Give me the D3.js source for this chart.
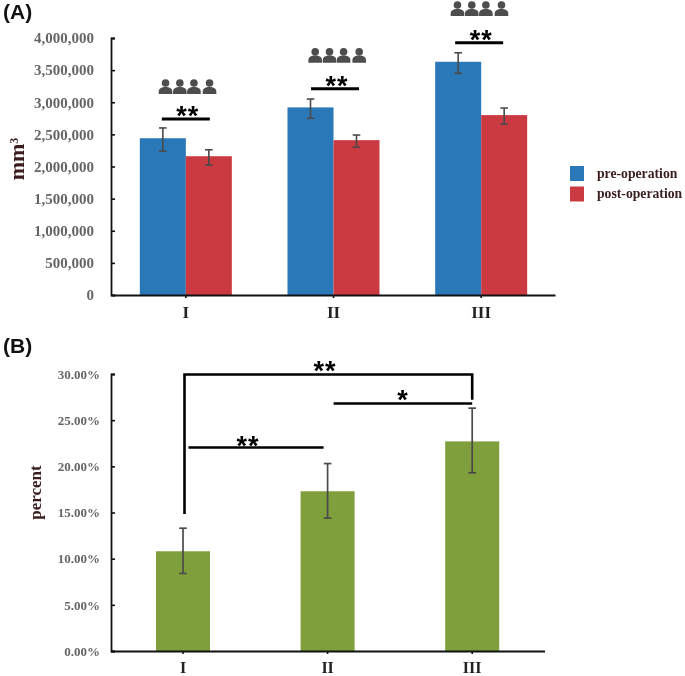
<!DOCTYPE html>
<html><head><meta charset="utf-8">
<script src="https://cdn.jsdelivr.net/npm/d3@7/dist/d3.min.js"></script>
<style>
html,body{margin:0;padding:0;background:#fff}
svg{display:block;filter:blur(0.35px)}
.tick text{font-family:"Liberation Serif",serif;font-weight:bold}
</style></head><body>
<svg id="c" width="685" height="676"></svg>
<script>
const groups = ["I","II","III"];
const seriesNames = ["pre-operation","post-operation"];
const preValues = [2440000,2920000,3630000];
const preLow = [2240000,2750000,3450000];
const preHigh = [2600000,3050000,3770000];
const postValues = [2160000,2410000,2800000];
const postLow = [2020000,2300000,2660000];
const postHigh = [2260000,2490000,2910000];
const volumeTicks = [0,500000,1000000,1500000,2000000,2500000,3000000,3500000,4000000];
const sigLineA = [2740000,3210000,3927000];
const iconLevelA = [3128000,3615000,4342000];
const percentValues = [10.8,17.3,22.7];
const percentLow = [8.4,14.4,19.3];
const percentHigh = [13.3,20.3,26.3];
const percentTicks = [0,5,10,15,20,25,30];
const colors = {pre:"#2b78b9",post:"#cb3a40",green:"#7f9f3c",err:"#4a4a4a",tick:"#666666",title:"#3a1e1e"};

const svg = d3.select("#c");
const serif = '"Liberation Serif",serif', sans = '"Liberation Sans",sans-serif';

function styleAxis(g,fs,col){
  g.selectAll("path.domain").attr("stroke","#111").attr("stroke-width",1.8);
  g.selectAll(".tick line").attr("stroke","#111").attr("stroke-width",1.6);
  g.selectAll(".tick text").attr("fill",col).style("font-size",fs+"px");
}
function errBar(g,x,lo,hi,cap,sw){
  g.append("line").attr("x1",x).attr("x2",x).attr("y1",lo).attr("y2",hi).attr("stroke",colors.err).attr("stroke-width",sw);
  [lo,hi].forEach(y=>g.append("line").attr("x1",x-cap).attr("x2",x+cap).attr("y1",y).attr("y2",y).attr("stroke",colors.err).attr("stroke-width",sw));
}
function stars(x,cy,s){
  svg.append("text").attr("x",x).attr("y",cy+12).attr("text-anchor","middle").attr("letter-spacing",1)
    .attr("font-family",sans).attr("font-weight","bold").attr("font-size",27).attr("fill","#000").text(s);
}
function person(g,cx,base){
  g.append("circle").attr("cx",cx).attr("cy",base-11).attr("r",3.8).attr("fill","#4d4d4d");
  g.append("path").attr("fill","#4d4d4d")
    .attr("d",`M${cx-6.8},${base} v-2.6 q0,-4.4 6.8,-4.8 q6.8,0.4 6.8,4.8 v2.6 z`);
}

/* Panel A */
const xA = d3.scaleBand().domain(groups).range([112,555]);
const yA = d3.scaleLinear().domain([0,4000000]).range([295,38]);
const bw = 46;
const cA = g => xA(g)+xA.bandwidth()/2;
const gA = svg.append("g");
const sigShift = [0,1.5,-2], iconShift = [-20.3,-18.3,-23.7], iconStep = [0,14.3,28.4,44];
groups.forEach((g,i)=>{
  const c = cA(g);
  gA.append("rect").attr("x",c-bw).attr("width",bw).attr("y",yA(preValues[i])).attr("height",yA(0)-yA(preValues[i])).attr("fill",colors.pre);
  gA.append("rect").attr("x",c).attr("width",bw).attr("y",yA(postValues[i])).attr("height",yA(0)-yA(postValues[i])).attr("fill",colors.post);
  errBar(gA,c-bw/2,yA(preLow[i]),yA(preHigh[i]),3.8,1.6);
  errBar(gA,c+bw/2,yA(postLow[i]),yA(postHigh[i]),3.8,1.6);
  const ly = yA(sigLineA[i]), mid = c+sigShift[i];
  gA.append("line").attr("x1",mid-24).attr("x2",mid+24).attr("y1",ly).attr("y2",ly).attr("stroke","#000").attr("stroke-width",3);
  stars(mid+2,ly-6,"**");
  const ib = yA(iconLevelA[i]);
  iconStep.forEach(d=>person(gA,c+iconShift[i]+d,ib));
});
const axAy = svg.append("g").attr("transform","translate(111,0)")
  .call(d3.axisLeft(yA).tickValues(volumeTicks).tickFormat(d3.format(",")).tickSize(-4).tickPadding(17));
styleAxis(axAy,15,colors.tick);
const axAx = svg.append("g").attr("transform","translate(0,295)")
  .call(d3.axisBottom(xA).tickSizeInner(3).tickSizeOuter(0).tickPadding(8));
styleAxis(axAx,17,"#222");
svg.append("text").attr("transform","translate(24,159) rotate(-90)").attr("text-anchor","middle")
  .attr("font-family",serif).attr("font-weight","bold").attr("font-size",22).attr("fill",colors.title)
  .html('mm<tspan dy="-6" font-size="12">3</tspan>');
svg.append("text").attr("x",3).attr("y",19).attr("font-family",sans).attr("font-weight","bold").attr("font-size",21).attr("fill","#111").text("(A)");

/* Legend */
seriesNames.forEach((n,i)=>{
  const y = 166+i*20.5;
  svg.append("rect").attr("x",570).attr("y",y).attr("width",14).attr("height",15).attr("fill",i?colors.post:colors.pre);
  svg.append("text").attr("x",597).attr("y",y+11.5).attr("font-family",serif).attr("font-weight","bold").attr("font-size",13.7).attr("fill",colors.title).text(n);
});

/* Panel B */
const xB = d3.scaleBand().domain(groups).range([110.7,544.5]);
const yB = d3.scaleLinear().domain([0,30]).range([651,374]);
const bwB = 54;
const cB = g => xB(g)+xB.bandwidth()/2;
const gB = svg.append("g");
groups.forEach((g,i)=>{
  const c = cB(g);
  gB.append("rect").attr("x",c-bwB/2).attr("width",bwB).attr("y",yB(percentValues[i])).attr("height",yB(0)-yB(percentValues[i])).attr("fill",colors.green);
  errBar(gB,c,yB(percentLow[i]),yB(percentHigh[i]),3.8,1.7);
});
const axBy = svg.append("g").attr("transform","translate(111,0)")
  .call(d3.axisLeft(yB).tickValues(percentTicks).tickFormat(d=>d.toFixed(2)+"%").tickSize(-4).tickPadding(11));
styleAxis(axBy,13,colors.tick);
const axBx = svg.append("g").attr("transform","translate(0,651)")
  .call(d3.axisBottom(xB).tickSizeInner(3).tickSizeOuter(0).tickPadding(8));
styleAxis(axBx,16,"#222");
svg.append("text").attr("transform","translate(41,492.5) rotate(-90)").attr("text-anchor","middle")
  .attr("font-family",serif).attr("font-weight","bold").attr("font-size",17).attr("fill",colors.title).text("percent");
svg.append("text").attr("x",3).attr("y",353).attr("font-family",sans).attr("font-weight","bold").attr("font-size",21).attr("fill","#111").text("(B)");

/* Significance brackets, B */
const [c1,c2,c3] = groups.map(cB);
const path = (d,sw)=>svg.append("path").attr("d",d).attr("fill","none").attr("stroke","#000").attr("stroke-width",sw);
path(`M${c1+1.5},${yB(14.84)} V${yB(29.95)} H${c3} V${yB(27.2)}`,2.6);
path(`M${c2+6},${yB(26.8)} H${c3}`,2.4);
path(`M${c1+5.5},${yB(22.04)} H${c2-4}`,2.4);
stars(325,367.7,"**");
stars(403,396.7,"*");
stars(248,442.7,"**");
</script>
</body></html>
